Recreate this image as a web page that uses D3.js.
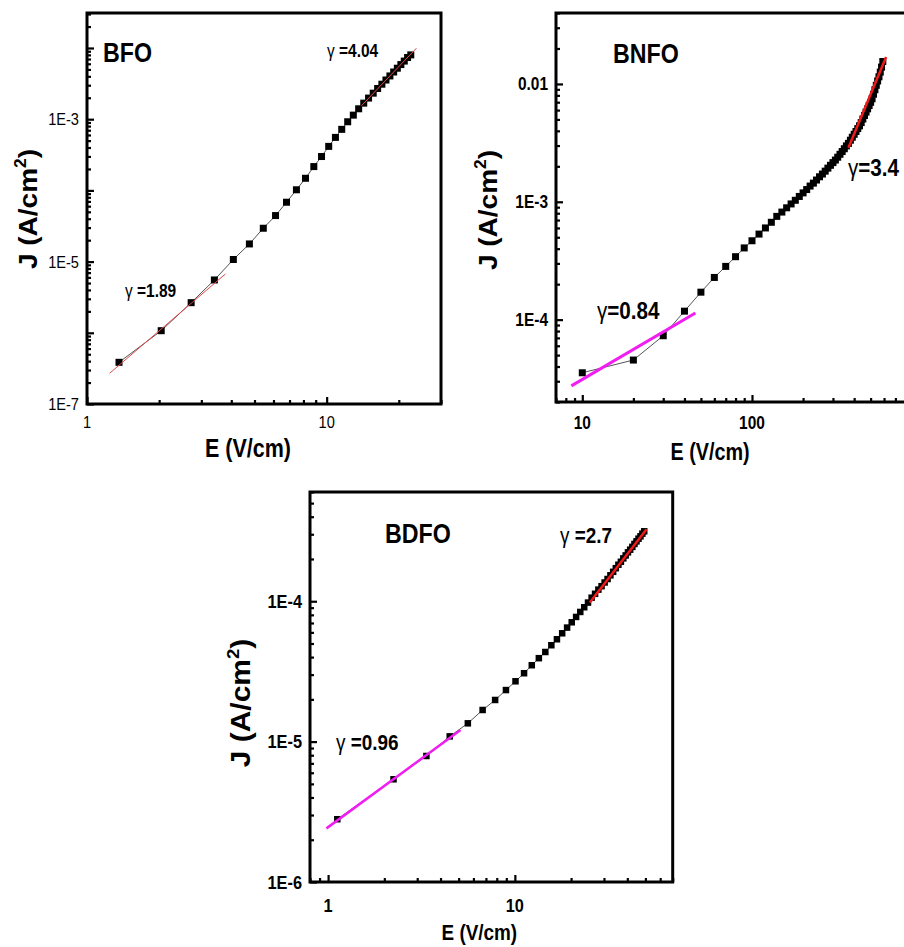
<!DOCTYPE html>
<html>
<head>
<meta charset="utf-8">
<script src="https://cdn.jsdelivr.net/npm/d3@7"></script>
<style>
  html, body { margin: 0; padding: 0; background: #fff; }
  svg { display: block; font-family: "Liberation Sans", Arial, sans-serif; }
</style>
</head>
<body>
<svg id="fig" width="904" height="947"></svg>
<script>
// ---- BFO: J-E data (E in V/cm, J in A/cm^2) ----
const bfoE = [1.36, 2.04, 2.72, 3.40, 4.08, 4.76, 5.44, 6.12, 6.80, 7.48, 8.16, 8.84, 9.52, 10.2, 10.88, 11.56,
              12.24, 12.92, 13.6, 14.28, 14.96, 15.64, 16.32, 17.0, 17.68, 18.36, 19.04, 19.72, 20.4, 21.08, 21.76, 22.44];
const bfoJ = [3.85e-7, 1.07e-6, 2.65e-6, 5.52e-6, 1.07e-5, 1.77e-5, 2.94e-5, 4.43e-5, 6.82e-5, 1.02e-4, 1.48e-4,
              2.16e-4, 2.99e-4, 4.15e-4, 5.55e-4, 7.2e-4, 9.2e-4, 1.14e-3, 1.40e-3, 1.68e-3, 1.98e-3, 2.32e-3,
              2.70e-3, 3.10e-3, 3.55e-3, 4.05e-3, 4.60e-3, 5.20e-3, 5.85e-3, 6.55e-3, 7.35e-3, 8.0e-3];
const bfoFits = [[1.243, 2.7e-7, 3.78, 6.7e-6], [13.96, 1.54e-3, 23.7, 9.95e-3]];

// ---- BNFO ----
const bnfoE = [10, 20, 30, 40, 50, 60, 70, 80, 90, 100, 110, 120, 130, 140, 150, 160, 170, 180, 190, 200,
               210, 220, 230, 240, 250, 260, 270, 280, 290, 300, 310, 320, 330, 340, 350, 360, 370, 380, 390, 400,
               410, 420, 430, 440, 450, 460, 470, 480, 490, 500, 510, 520, 530, 540, 550, 560, 570, 580, 590];
const bnfoJ = [3.54e-5, 4.54e-5, 7.30e-5, 1.18e-4, 1.71e-4, 2.28e-4, 2.83e-4, 3.42e-4, 4.06e-4, 4.67e-4,
               5.32e-4, 6.00e-4, 6.70e-4, 7.52e-4, 8.18e-4, 8.89e-4, 9.59e-4, 1.03e-3, 1.11e-3, 1.19e-3,
               1.27e-3, 1.36e-3, 1.44e-3, 1.53e-3, 1.63e-3, 1.72e-3, 1.82e-3, 1.93e-3, 2.04e-3, 2.15e-3,
               2.26e-3, 2.39e-3, 2.53e-3, 2.67e-3, 2.82e-3, 2.98e-3, 3.13e-3, 3.33e-3, 3.53e-3, 3.74e-3,
               3.95e-3, 4.18e-3, 4.41e-3, 4.70e-3, 5.04e-3, 5.40e-3, 5.77e-3, 6.15e-3, 6.56e-3, 6.98e-3,
               7.48e-3, 8.18e-3, 8.93e-3, 9.74e-3, 1.06e-2, 1.15e-2, 1.26e-2, 1.39e-2, 1.55e-2];
const bnfoFits = [[8.62, 2.74e-5, 46.4, 1.14e-4], [370, 2.87e-3, 617, 1.69e-2]];

// ---- BDFO ----
const bdfoE = [1.12, 2.24, 3.36, 4.48, 5.6, 6.72, 7.84, 8.96, 10.08, 11.2, 12.32, 13.44, 14.56, 15.68, 16.8,
               17.92, 19.04, 20.16, 21.28, 22.4, 23.52, 24.64, 25.76, 26.88, 28.0, 29.12, 30.24, 31.36, 32.48,
               33.6, 34.72, 35.84, 36.96, 38.08, 39.2, 40.32, 41.44, 42.56, 43.68, 44.8, 45.92, 47.04, 48.16, 49.28];
const bdfoJ = [2.80e-6, 5.39e-6, 7.90e-6, 1.09e-5, 1.35e-5, 1.68e-5, 1.98e-5, 2.33e-5, 2.69e-5, 3.07e-5,
               3.50e-5, 3.93e-5, 4.35e-5, 4.86e-5, 5.36e-5, 5.91e-5, 6.49e-5, 7.08e-5, 7.73e-5, 8.39e-5,
               9.06e-5, 9.78e-5, 1.06e-4, 1.13e-4, 1.21e-4, 1.28e-4, 1.36e-4, 1.44e-4, 1.53e-4, 1.62e-4,
               1.72e-4, 1.82e-4, 1.91e-4, 2.02e-4, 2.12e-4, 2.23e-4, 2.33e-4, 2.44e-4, 2.56e-4, 2.67e-4,
               2.79e-4, 2.90e-4, 3.03e-4, 3.15e-4];
const bdfoFits = [[0.98, 2.41e-6, 5.12, 1.21e-5], [25.2, 9.8e-5, 50.7, 3.26e-4]];

// ---- tick labels ----
const bfoXTicks = [1, 10], bfoXLabels = ["1", "10"];
const bfoYTicks = [1e-7, 1e-5, 1e-3], bfoYLabels = ["1E-7", "1E-5", "1E-3"];
const bnfoXTicks = [10, 100], bnfoXLabels = ["10", "100"];
const bnfoYTicks = [1e-4, 1e-3, 1e-2], bnfoYLabels = ["1E-4", "1E-3", "0.01"];
const bdfoXTicks = [1, 10], bdfoXLabels = ["1", "10"];
const bdfoYTicks = [1e-6, 1e-5, 1e-4], bdfoYLabels = ["1E-6", "1E-5", "1E-4"];

const svg = d3.select("#fig");
const SX = 0.86; // condensed lettering

function label(g, x, y, parts, opts) {
  const t = g.append("text")
    .attr("transform", `translate(${x},${y}) scale(${opts.sx || SX},1)`)
    .attr("font-size", opts.size)
    .attr("text-anchor", opts.anchor || "start")
    .attr("fill", "#000");
  parts.forEach(p => {
    const ts = t.append("tspan").text(p.t).attr("font-weight", p.w || "bold");
    if (p.size) ts.attr("font-size", p.size);
  });
  return t;
}

function yTitle(g, x, y, size) {
  const t = g.append("text")
    .attr("transform", `translate(${x},${y}) rotate(-90) scale(1,0.9)`)
    .attr("text-anchor", "middle")
    .attr("font-size", size)
    .attr("font-weight", "bold");
  t.append("tspan").text("J (A/cm");
  t.append("tspan").text("2").attr("font-size", size * 0.62).attr("dy", -size * 0.42);
  t.append("tspan").text(")").attr("dy", size * 0.42);
}

// minor/major tick generator for a log domain
function logTicks(domain) {
  const lo = Math.floor(Math.log10(domain[0])), hi = Math.ceil(Math.log10(domain[1]));
  const major = [], minor = [];
  for (let e = lo; e <= hi; e++) {
    for (let m = 1; m < 10; m++) {
      const v = +(m * Math.pow(10, e)).toPrecision(6);
      if (v < domain[0] * 0.999 || v > domain[1] * 1.001) continue;
      (m === 1 ? major : minor).push(v);
    }
  }
  return { major, minor };
}

function panel(cfg) {
  const g = svg.append("g");
  const x = d3.scaleLog().domain(cfg.xDomain).range([cfg.left, cfg.right]);
  const y = d3.scaleLog().domain(cfg.yDomain).range([cfg.bottom, cfg.top]);

  // ticks (inward), drawn with d3 axes
  const xt = logTicks(cfg.xDomain), yt = logTicks(cfg.yDomain);
  const axStyle = sel => {
    sel.select(".domain").remove();
    sel.selectAll(".tick line").attr("stroke", "#000").attr("stroke-width", 2.2);
    sel.selectAll(".tick text").remove();
  };
  g.append("g").attr("transform", `translate(0,${cfg.bottom})`)
    .call(d3.axisBottom(x).tickValues(xt.minor).tickSize(-4)).call(axStyle);
  g.append("g").attr("transform", `translate(0,${cfg.bottom})`)
    .call(d3.axisBottom(x).tickValues(xt.major).tickSize(-7)).call(axStyle);
  g.append("g").attr("transform", `translate(${cfg.left},0)`)
    .call(d3.axisLeft(y).tickValues(yt.minor).tickSize(-4)).call(axStyle);
  g.append("g").attr("transform", `translate(${cfg.left},0)`)
    .call(d3.axisLeft(y).tickValues(yt.major).tickSize(-7)).call(axStyle);

  // frame
  g.append("rect")
    .attr("x", cfg.left).attr("y", cfg.top)
    .attr("width", cfg.right - cfg.left).attr("height", cfg.bottom - cfg.top)
    .attr("fill", "none").attr("stroke", "#000").attr("stroke-width", 3);

  // tick labels
  cfg.xTicks.forEach((v, i) =>
    label(g, x(v), cfg.xLabelY, [{ t: cfg.xLabels[i], w: cfg.tickWeight }], { size: cfg.tickSize, anchor: "middle" }));
  cfg.yTicks.forEach((v, i) =>
    label(g, cfg.left - 8, y(v) + cfg.tickSize * 0.36, [{ t: cfg.yLabels[i], w: cfg.tickWeight }], { size: cfg.tickSize, anchor: "end" }));

  // connecting line + square markers
  const pts = cfg.E.map((e, i) => [e, cfg.J[i]]);
  g.append("path").datum(pts)
    .attr("d", d3.line().x(d => x(d[0])).y(d => y(d[1])))
    .attr("fill", "none").attr("stroke", "#555").attr("stroke-width", 1);
  g.append("g").selectAll("rect").data(pts).join("rect")
    .attr("x", d => x(d[0]) - cfg.ms / 2).attr("y", d => y(d[1]) - cfg.ms / 2)
    .attr("width", cfg.ms).attr("height", cfg.ms).attr("fill", "#000");

  // power-law fit segments
  cfg.fits.forEach((f, i) => {
    g.append("line")
      .attr("x1", x(f[0])).attr("y1", y(f[1])).attr("x2", x(f[2])).attr("y2", y(f[3]))
      .attr("stroke", cfg.fitColors[i]).attr("stroke-width", cfg.fitWidths[i]);
  });

  // titles and annotations
  label(g, cfg.nameX, cfg.nameY, [{ t: cfg.name }], { size: 27 });
  cfg.gammas.forEach(a =>
    label(g, a.x, a.y, [{ t: a.sp ? "γ " : "γ", w: "normal" }, { t: a.t }], { size: a.size }));
  label(g, (cfg.left + Math.min(cfg.right, 904)) / 2 + cfg.xTitleDx, cfg.xTitleY, [{ t: "E (V/cm)" }],
        { size: cfg.xTitleSize, anchor: "middle" });
  yTitle(g, cfg.yTitleX, cfg.yTitleY, cfg.yTitleSize);
}

panel({
  name: "BFO", nameX: 103, nameY: 62,
  E: bfoE, J: bfoJ, fits: bfoFits, fitColors: ["#e34848", "#e34848"], fitWidths: [1, 1], ms: 7,
  xDomain: [1, 30], yDomain: [1e-7, 3.1e-2],
  left: 87, right: 441, top: 13, bottom: 404,
  xTicks: bfoXTicks, xLabels: bfoXLabels, yTicks: bfoYTicks, yLabels: bfoYLabels,
  tickSize: 17, tickWeight: "normal", xLabelY: 428,
  gammas: [{ x: 327, y: 57, t: "=4.04", sp: true, size: 18 }, { x: 125, y: 297, t: "=1.89", sp: true, size: 18 }],
  xTitleY: 457, xTitleDx: -16, xTitleSize: 25,
  yTitleX: 37, yTitleY: 209, yTitleSize: 28
});

panel({
  name: "BNFO", nameX: 613, nameY: 63,
  E: bnfoE, J: bnfoJ, fits: bnfoFits, fitColors: ["#f01ef0", "#f01a1a"], fitWidths: [3, 2.5], ms: 7,
  xDomain: [7, 1000], yDomain: [2e-5, 0.04],
  left: 556, right: 921.7, top: 13, bottom: 402,
  xTicks: bnfoXTicks, xLabels: bnfoXLabels, yTicks: bnfoYTicks, yLabels: bnfoYLabels,
  tickSize: 18, tickWeight: "bold", xLabelY: 429,
  gammas: [{ x: 597, y: 319, t: "=0.84", sp: false, size: 24 }, { x: 848, y: 176, t: "=3.4", sp: false, size: 24 }],
  xTitleY: 460, xTitleDx: -20, xTitleSize: 23,
  yTitleX: 497, yTitleY: 210, yTitleSize: 28
});

panel({
  name: "BDFO", nameX: 385, nameY: 543,
  E: bdfoE, J: bdfoJ, fits: bdfoFits, fitColors: ["#f01ef0", "#f01a1a"], fitWidths: [2.5, 2.5], ms: 6.5,
  xDomain: [0.8, 70], yDomain: [1e-6, 6e-4],
  left: 310, right: 672.7, top: 492, bottom: 882,
  xTicks: bdfoXTicks, xLabels: bdfoXLabels, yTicks: bdfoYTicks, yLabels: bdfoYLabels,
  tickSize: 19, tickWeight: "bold", xLabelY: 912,
  gammas: [{ x: 560, y: 543, t: "=2.7", sp: true, size: 22 }, { x: 336, y: 750, t: "=0.96", sp: true, size: 22 }],
  xTitleY: 940, xTitleDx: -12, xTitleSize: 22,
  yTitleX: 250, yTitleY: 703, yTitleSize: 30
});
</script>
</body>
</html>
